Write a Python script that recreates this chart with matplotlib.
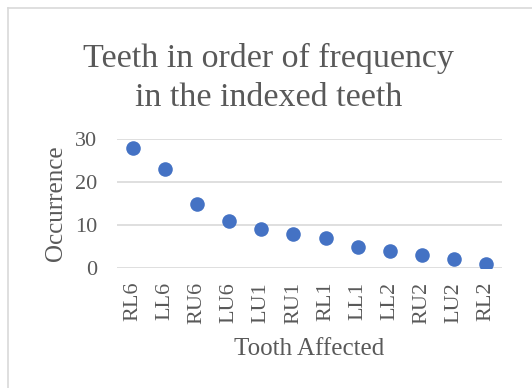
import matplotlib
matplotlib.use("Agg")
import matplotlib.pyplot as plt
from matplotlib.lines import Line2D

teeth = ["RL6", "LL6", "RU6", "LU6", "LU1", "RU1", "RL1", "LL1", "LL2", "RU2", "LU2", "RL2"]
occurrence = [28, 23, 15, 11, 9, 8, 7, 5, 4, 3, 2, 1]
y_ticks = [0, 10, 20, 30]

text_color = "#595959"
grid_color = "#D9D9D9"
dot_color = "#4472C4"

plt.rcParams['font.family'] = ['Liberation Serif', 'DejaVu Serif']

fig = plt.figure(figsize=(5.32, 3.88), dpi=100)
ax = fig.add_axes([117 / 532, 1 - 268 / 388, (502 - 117) / 532, (268 - 139) / 388])

x = list(range(len(teeth)))
ax.scatter(x, occurrence, s=110, color=dot_color, zorder=3, linewidths=0)

ax.set_xlim(-0.5, len(teeth) - 0.5)
ax.set_ylim(0, 30)
ax.set_yticks(y_ticks)
ax.set_xticks(x)
ax.set_xticklabels(teeth, rotation=90)
ax.tick_params(axis='y', length=0, labelsize=16, colors=text_color, pad=14)
ax.tick_params(axis='x', length=0, labelsize=16, colors=text_color, pad=10)
ax.grid(axis='y', color=grid_color, linewidth=1.2, zorder=0)
ax.set_axisbelow(True)
for side in ax.spines.values():
    side.set_visible(False)

ax.set_ylabel("Occurrence", fontsize=18, color=text_color, labelpad=6)
ax.set_xlabel("Tooth Affected", fontsize=18, color=text_color, labelpad=10)

fig.text(0.505, 1 - 43 / 388, "Teeth in order of frequency\nin the indexed teeth",
         ha='center', va='top', fontsize=24.5, color=text_color, linespacing=1.36)

# chart frame (only left and top edges visible in the crop)
fig.add_artist(Line2D([8 / 532, 8 / 532], [0, 1 - 8 / 388], color=grid_color, linewidth=1.2,
                      transform=fig.transFigure))
fig.add_artist(Line2D([8 / 532, 1], [1 - 8 / 388, 1 - 8 / 388], color=grid_color, linewidth=1.2,
                      transform=fig.transFigure))

fig.savefig("out.png", dpi=100)
